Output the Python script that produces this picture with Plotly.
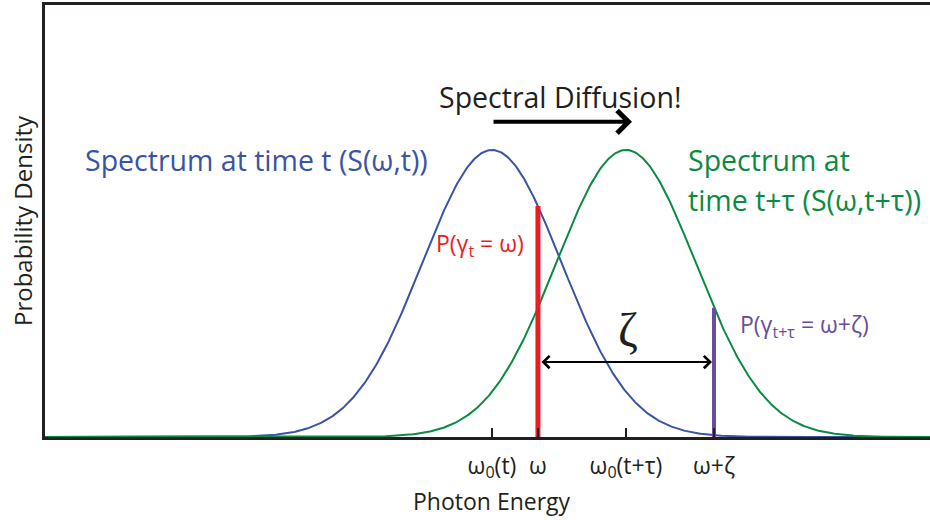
import numpy as np
import plotly.graph_objects as go

# Parameters (x unit = distance between the two centres)
centers = [0.0, 1.0]          # omega_0(t), omega_0(t+tau)
sigma = 0.52
omega = 0.343
omega_zeta = 1.657
tick_vals = [0.0, omega, 1.0, omega_zeta]
tick_text = ["ω<sub>0</sub>(t)", "ω", "ω<sub>0</sub>(t+τ)", "ω+ζ"]

BLUE = "#3A53A4"
GREEN = "#0C8A42"
RED = "#ED1C24"
PURPLE = "#6A4C9C"
FONT = "Open Sans"

def gauss(x, c):
    return np.exp(-(x - c) ** 2 / (2 * sigma ** 2))

xs = np.linspace(-3.4, 3.4, 800)

fig = go.Figure()
fig.add_trace(go.Scatter(x=xs, y=gauss(xs, centers[0]), mode="lines",
                         line=dict(color=BLUE, width=2), hoverinfo="skip"))
fig.add_trace(go.Scatter(x=xs, y=gauss(xs, centers[1]), mode="lines",
                         line=dict(color=GREEN, width=2), hoverinfo="skip"))
fig.add_trace(go.Scatter(x=[omega, omega], y=[0, gauss(omega, centers[0])], mode="lines",
                         line=dict(color=RED, width=5), hoverinfo="skip"))
fig.add_trace(go.Scatter(x=[omega_zeta, omega_zeta], y=[0, gauss(omega_zeta, centers[1])], mode="lines",
                         line=dict(color=PURPLE, width=4), hoverinfo="skip"))

ann = []
ann.append(dict(x=0.507, y=1.185, text="Spectral Diffusion!", showarrow=False,
                font=dict(family=FONT, size=28.5, color="#231F20")))
ann.append(dict(x=1.045, y=1.098, ax=0.0, ay=1.098, axref="x", ayref="y", xref="x", yref="y",
                text="", showarrow=True, arrowhead=4, arrowsize=1.1, arrowwidth=4, arrowcolor="#000000"))
ann.append(dict(x=-1.761, y=0.965, text="Spectrum at time t (S(ω,t))", showarrow=False,
                font=dict(family=FONT, size=28.5, color=BLUE)))
ann.append(dict(x=1.448, y=0.965, text="Spectrum at", showarrow=False, xanchor="left",
                font=dict(family=FONT, size=28.5, color=GREEN)))
ann.append(dict(x=1.448, y=0.826, text="time t+τ (S(ω,t+τ))", showarrow=False, xanchor="left",
                font=dict(family=FONT, size=28.5, color=GREEN)))
ann.append(dict(x=0.255, y=0.669, text="P(γ<sub>t</sub> = ω)", showarrow=False, xanchor="right",
                font=dict(family=FONT, size=23, color=RED)))
ann.append(dict(x=1.836, y=0.39, text="P(γ<sub>t+τ</sub> = ω+ζ)", showarrow=False, xanchor="left",
                font=dict(family=FONT, size=23, color=PURPLE)))
ann.append(dict(x=1.015, y=0.373, text="ζ", showarrow=False,
                font=dict(family="Liberation Serif", size=48, color="#231F20")))
ann.append(dict(x=omega_zeta - 0.015, y=0.261, ax=omega + 0.015, ay=0.261, axref="x", ayref="y",
                xref="x", yref="y", text="", showarrow=True, arrowhead=4, startarrowhead=4,
                arrowside="end+start", arrowsize=1.2, startarrowsize=1.2, arrowwidth=2, arrowcolor="#000000"))
ann.append(dict(x=0.0, y=0, xref="x", yref="paper", yshift=-64, text="Photon Energy",
                showarrow=False, yanchor="middle",
                font=dict(family=FONT, size=23, color="#231F20")))
ann.append(dict(x=0, y=0.5, xref="paper", yref="paper", xshift=-23, text="Probability Density",
                showarrow=False, textangle=-90, xanchor="center",
                font=dict(family=FONT, size=24, color="#231F20")))
for a in ann:
    a.setdefault("xref", "x")
    a.setdefault("yref", "y")

fig.update_layout(
    width=930, height=520,
    margin=dict(l=45, r=0, t=5, b=83),
    paper_bgcolor="white", plot_bgcolor="white",
    showlegend=False,
    annotations=ann,
    xaxis=dict(range=[-3.336, 3.269], showgrid=False, zeroline=False,
               showline=True, mirror=True, linecolor="#231F20", linewidth=3,
               tickmode="array", tickvals=tick_vals, ticktext=tick_text,
               ticks="inside", ticklen=9, tickwidth=2, tickcolor="#231F20",
               ticklabelstandoff=6,
               tickfont=dict(family=FONT, size=23, color="#231F20")),
    yaxis=dict(range=[0, 1.505], showgrid=False, zeroline=False,
               showline=True, linecolor="#231F20", linewidth=3,
               showticklabels=False, ticks=""),
)

fig.write_html("out.html")
